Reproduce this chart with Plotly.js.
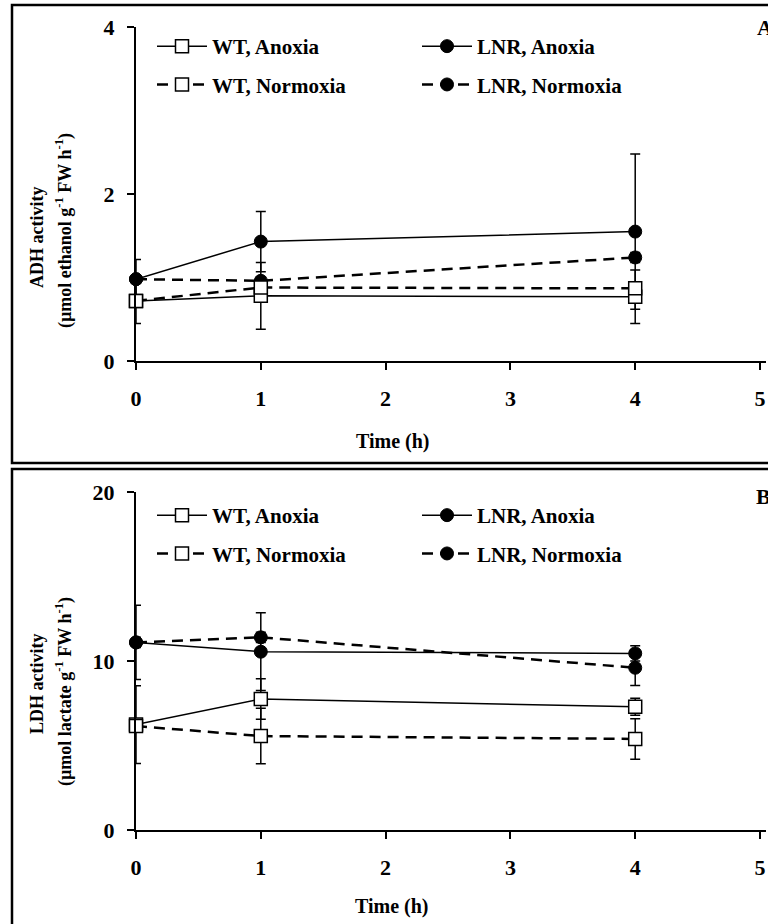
<!DOCTYPE html>
<html>
<head>
<meta charset="utf-8">
<script src="https://cdn.plot.ly/plotly-3.0.1.min.js"></script>
<style>html,body{margin:0;padding:0;background:#fff;}#chart{width:768px;height:924px;}</style>
</head>
<body>
<div id="chart"></div>
<script>
// ---- data ----
const time = [0, 1, 4];

// Panel A: ADH activity
const adhWtAnox = [0.72, 0.78, 0.77];
const adhWtAnoxErr = [0.27, 0.40, 0.32];
const adhLnrAnox = [0.98, 1.43, 1.55];
const adhLnrAnoxErr = [0.235, 0.36, 0.93];
const adhWtNorm = [0.72, 0.88, 0.87];
const adhWtNormErr = [0.03, 0.04, 0.05];
const adhLnrNorm = [0.98, 0.96, 1.24];
const adhLnrNormErr = [0.04, 0.04, 0.06];

// Panel B: LDH activity
const ldhWtAnox = [6.24, 7.75, 7.29];
const ldhWtAnoxErr = [2.3, 1.2, 0.5];
const ldhLnrAnox = [11.1, 10.55, 10.45];
const ldhLnrAnoxErr = [2.2, 2.3, 0.45];
const ldhWtNorm = [6.15, 5.56, 5.39];
const ldhWtNormErr = [0.3, 1.64, 1.2];
const ldhLnrNorm = [11.1, 11.4, 9.6];
const ldhLnrNormErr = [0.3, 0.3, 1.05];

const seriesNames = ['WT, Anoxia', 'LNR, Anoxia', 'WT, Normoxia', 'LNR, Normoxia'];
const xTicks = [0, 1, 2, 3, 4, 5];
const yTicksA = [0, 2, 4];
const yTicksB = [0, 10, 20];

// ---- helpers ----
const W = 768, H = 924;
const px = v => v / W;
const py = v => 1 - v / H;
const FONT = 'Liberation Serif, Times New Roman, serif';

function trace(y, err, name, isWT, isNorm, xa, ya, legend, group) {
  return {
    x: time, y: y, name: name, type: 'scatter', mode: 'lines+markers',
    xaxis: xa, yaxis: ya, legend: legend, legendgroup: group,
    cliponaxis: false,
    line: {color: '#000', width: isNorm ? 2.5 : 1.5, dash: isNorm ? '11px,7px' : 'solid'},
    marker: isWT
      ? {symbol: 'square', size: 13, color: '#fff', line: {color: '#000', width: 1.5}}
      : {symbol: 'circle', size: 13, color: '#000', line: {color: '#000', width: 1}},
    error_y: {type: 'data', array: err, visible: true, color: '#000', thickness: 1.5, width: 5}
  };
}

const data = [
  trace(adhLnrAnox, adhLnrAnoxErr, seriesNames[1], false, false, 'x', 'y', 'legend2', 'a2'),
  trace(adhLnrNorm, adhLnrNormErr, seriesNames[3], false, true, 'x', 'y', 'legend2', 'a4'),
  trace(adhWtAnox, adhWtAnoxErr, seriesNames[0], true, false, 'x', 'y', 'legend', 'a1'),
  trace(adhWtNorm, adhWtNormErr, seriesNames[2], true, true, 'x', 'y', 'legend', 'a3'),
  trace(ldhLnrAnox, ldhLnrAnoxErr, seriesNames[1], false, false, 'x2', 'y2', 'legend4', 'b2'),
  trace(ldhLnrNorm, ldhLnrNormErr, seriesNames[3], false, true, 'x2', 'y2', 'legend4', 'b4'),
  trace(ldhWtAnox, ldhWtAnoxErr, seriesNames[0], true, false, 'x2', 'y2', 'legend3', 'b1'),
  trace(ldhWtNorm, ldhWtNormErr, seriesNames[2], true, true, 'x2', 'y2', 'legend3', 'b3')
];

const tickFont = {family: FONT, size: 22, color: '#000', weight: 'bold'};
const bold = v => '<b>' + v + '</b>';
function xAxis(anchor) {
  return {
    anchor: anchor, domain: [px(136), px(766)], range: [0, 5.048],
    tickvals: xTicks, ticktext: xTicks.map(bold),
    showline: true, linecolor: '#000', linewidth: 2,
    ticks: 'outside', ticklen: 7, tickwidth: 2, tickcolor: '#000',
    showgrid: false, zeroline: false, tickfont: tickFont,
    ticklabelstandoff: 10, automargin: false, fixedrange: true
  };
}
function yAxis(anchor, dom, range, ticks) {
  return {
    anchor: anchor, domain: dom, range: range,
    tickvals: ticks, ticktext: ticks.map(bold),
    showline: true, linecolor: '#000', linewidth: 2,
    ticks: 'outside', ticklen: 7, tickwidth: 2, tickcolor: '#000',
    showgrid: false, zeroline: false, tickfont: tickFont,
    ticklabelstandoff: 8, automargin: false, fixedrange: true
  };
}
const legendFont = {family: FONT, size: 21, color: '#000', weight: 'bold'};
function legend(x, y) {
  return {
    x: px(x), y: py(y), xanchor: 'left', yanchor: 'top',
    font: legendFont, bgcolor: 'rgba(0,0,0,0)', borderwidth: 0,
    tracegroupgap: 8, itemwidth: 50, orientation: 'v'
  };
}
function ann(text, x, y, size, angle, xanchor) {
  return {
    text: text, xref: 'paper', yref: 'paper', x: px(x), y: py(y),
    xanchor: xanchor || 'center', yanchor: 'middle', showarrow: false,
    textangle: angle || 0,
    font: {family: FONT, size: size, color: '#000', weight: 'bold'}
  };
}

const layout = {
  width: W, height: H,
  margin: {l: 0, r: 0, t: 0, b: 0, pad: 0},
  paper_bgcolor: '#fff', plot_bgcolor: '#fff',
  showlegend: true,
  xaxis: xAxis('y'),
  yaxis: yAxis('x', [py(361), py(27)], [0, 4], yTicksA),
  xaxis2: xAxis('y2'),
  yaxis2: yAxis('x2', [py(830), py(492)], [0, 20], yTicksB),
  legend: legend(152, 26),
  legend2: legend(417, 26),
  legend3: legend(152, 495),
  legend4: legend(417, 495),
  annotations: [
    ann('A', 755, 27, 22, 0, 'left'),
    ann('B', 754, 497, 22, 0, 'left'),
    ann('Time (h)', 393, 442, 20),
    ann('Time (h)', 392, 906, 20),
    ann('ADH activity', 37, 238, 18, -90),
    ann('(µmol ethanol g<sup>-1</sup> FW h<sup>-1</sup>)', 64, 231, 18, -90),
    ann('LDH activity', 37, 684, 18, -90),
    ann('(µmol lactate g<sup>-1</sup> FW h<sup>-1</sup>)', 64, 692, 18, -90)
  ],
  shapes: [
    {type: 'rect', xref: 'paper', yref: 'paper', x0: px(12), x1: 1.02, y0: py(463), y1: py(5),
     line: {color: '#000', width: 2.5}, fillcolor: 'rgba(0,0,0,0)'},
    {type: 'rect', xref: 'paper', yref: 'paper', x0: px(12), x1: 1.02, y0: -0.02, y1: py(469),
     line: {color: '#000', width: 2.5}, fillcolor: 'rgba(0,0,0,0)'}
  ]
};

Plotly.newPlot('chart', data, layout, {displayModeBar: false, staticPlot: true});
</script>
</body>
</html>
